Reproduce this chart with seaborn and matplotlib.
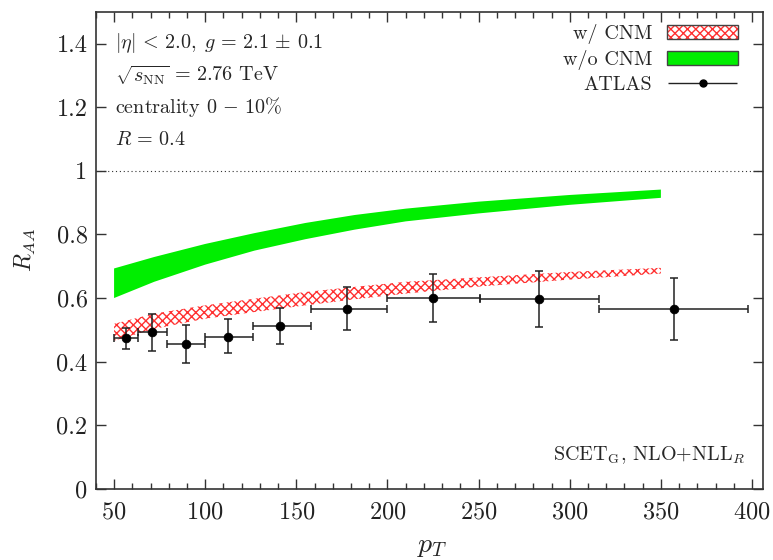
import numpy as np
import matplotlib
matplotlib.use("Agg")
import matplotlib.pyplot as plt
import seaborn as sns
import pandas as pd
from matplotlib.patches import Patch
from matplotlib.legend_handler import HandlerTuple, HandlerErrorbar
from matplotlib.container import ErrorbarContainer
from matplotlib.ticker import MultipleLocator

# ---- data ----
band_pt = [50, 72, 100, 127, 155, 182, 210, 250, 300, 350]
green_hi = [0.693, 0.729, 0.770, 0.804, 0.836, 0.861, 0.881, 0.903, 0.924, 0.941]
green_lo = [0.600, 0.651, 0.705, 0.749, 0.785, 0.815, 0.841, 0.866, 0.893, 0.915]
red_hi = [0.519, 0.551, 0.577, 0.598, 0.619, 0.635, 0.651, 0.665, 0.682, 0.695]
red_lo = [0.466, 0.503, 0.535, 0.556, 0.577, 0.596, 0.614, 0.636, 0.658, 0.677]

atlas_pt = [56.5, 71, 89.5, 112.5, 141, 178, 225, 283, 357]
atlas_lo_edge = [50, 63, 79, 100, 126, 158, 200, 251, 316]
atlas_hi_edge = [63, 79, 100, 126, 158, 200, 251, 316, 398]
atlas_raa = [0.474, 0.493, 0.454, 0.479, 0.513, 0.567, 0.600, 0.597, 0.565]
atlas_err_up = [0.032, 0.058, 0.060, 0.054, 0.056, 0.068, 0.077, 0.089, 0.099]
atlas_err_dn = [0.034, 0.058, 0.059, 0.052, 0.057, 0.066, 0.076, 0.088, 0.097]

sns.set_style("ticks")
plt.rcParams["font.family"] = ["cmr10", "DejaVu Serif"]
plt.rcParams["mathtext.fontset"] = "cm"
plt.rcParams["axes.formatter.use_mathtext"] = True
plt.rcParams["axes.unicode_minus"] = False
plt.rcParams["hatch.linewidth"] = 1.0

fig = plt.figure(figsize=(7.73, 5.6), dpi=100)
ax = fig.add_axes([0.124, 0.127, 0.863, 0.852])

RED = "#ff3030"
GREEN = "#00ee00"

# bands
ax.fill_between(band_pt, red_lo, red_hi, facecolor="white", edgecolor=RED,
                hatch="xxxx", linewidth=0, zorder=2)
ax.fill_between(band_pt, green_lo, green_hi, facecolor=GREEN, edgecolor="none",
                linewidth=0, zorder=2)

# ATLAS data
df = pd.DataFrame({"pt": atlas_pt, "raa": atlas_raa})
xerr = [np.array(atlas_pt) - np.array(atlas_lo_edge), np.array(atlas_hi_edge) - np.array(atlas_pt)]
ax.errorbar(atlas_pt, atlas_raa, xerr=xerr, yerr=[atlas_err_dn, atlas_err_up],
            fmt="none", ecolor="#222222", elinewidth=1.1, capsize=3, capthick=1.1, zorder=3)
sns.scatterplot(data=df, x="pt", y="raa", ax=ax, color="black", s=40, edgecolor="black",
                zorder=4, legend=False)

ax.axhline(1.0, color="#333333", linestyle=(0, (1, 2.5)), linewidth=0.8, zorder=1)

ax.set_xlim(40, 406)
ax.set_ylim(0, 1.5)
ax.set_xticks([50, 100, 150, 200, 250, 300, 350, 400])
ax.xaxis.set_minor_locator(MultipleLocator(10))
ax.set_yticks([0, 0.2, 0.4, 0.6, 0.8, 1.0, 1.2, 1.4])
ax.set_yticklabels(["0", "0.2", "0.4", "0.6", "0.8", "1", "1.2", "1.4"])
ax.tick_params(which="both", direction="in", top=True, right=True, colors="#333333",
               labelcolor="#222222", labelsize=17.5)
ax.tick_params(which="major", length=7, width=1)
ax.tick_params(which="minor", length=4, width=1)
ax.tick_params(axis="x", pad=9)
ax.tick_params(axis="y", pad=6)
for s in ax.spines.values():
    s.set_linewidth(1.2)
    s.set_color("#333333")

ax.set_xlabel(r"$p_T$", fontsize=20)
ax.set_ylabel(r"$R_{AA}$", fontsize=17)
ax.xaxis.set_label_coords(0.504, -0.092)
ax.yaxis.set_label_coords(-0.087, 0.50)

FS = 14.5
tx = 0.028
ax.text(tx, 0.935, r"$|\eta|\,<\,2.0,\;g\,=\,2.1\,\pm\,0.1$", transform=ax.transAxes, fontsize=FS, va="center")
ax.text(tx, 0.866, r"$\sqrt{s_{\rm NN}}\,=\,2.76$ TeV", transform=ax.transAxes, fontsize=FS, va="center")
ax.text(tx, 0.800, r"centrality $0\,-\,10\%$", transform=ax.transAxes, fontsize=FS, va="center")
ax.text(tx, 0.732, r"$R\,=\,0.4$", transform=ax.transAxes, fontsize=FS, va="center")
ax.text(0.973, 0.071, r"SCET$_{\rm G}$, NLO+NLL$_R$", transform=ax.transAxes, fontsize=FS,
        ha="right", va="center")

# legend
h_red = (Patch(facecolor="white", edgecolor=RED, hatch="xxxx", linewidth=0),
         Patch(facecolor="none", edgecolor="#444444", linewidth=1.0))
h_green = Patch(facecolor=GREEN, edgecolor="#444444", linewidth=1.0)
h_atlas = ax.errorbar([], [], xerr=[[1], [1]], fmt="o", color="black", ecolor="#222222",
                      markersize=5, elinewidth=1.0, capsize=3)
leg = ax.legend([h_red, h_green, h_atlas], ["w/ CNM", "w/o CNM", "ATLAS"],
                handler_map={tuple: HandlerTuple(ndivide=1, pad=0),
                             ErrorbarContainer: HandlerErrorbar(xerr_size=1.72, numpoints=1)},
                loc="upper right", bbox_to_anchor=(0.9625, 0.974), frameon=False, markerfirst=False,
                fontsize=FS, handlelength=3.5, handleheight=0.7, labelspacing=0.3,
                handletextpad=0.75, borderaxespad=0, borderpad=0)

fig.savefig("out.png", dpi=100)
